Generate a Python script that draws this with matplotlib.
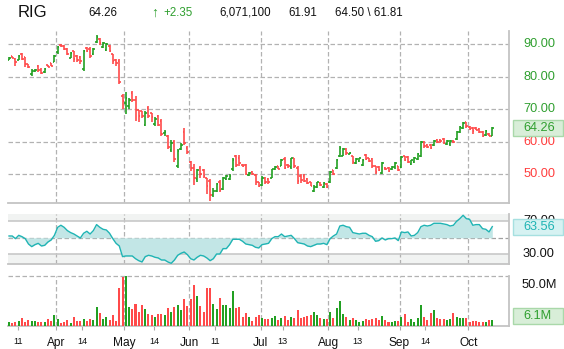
import numpy as np
import matplotlib
matplotlib.use("Agg")
import matplotlib.pyplot as plt
from matplotlib.patches import Rectangle
from matplotlib.transforms import offset_copy

plt.rcParams['font.family'] = ['Liberation Sans', 'DejaVu Sans']

# daily bars, oldest first
open_ = [85.3, 86.3, 85.5, 85.3, 87.1, 86.0, 84.0, 80.8, 81.8, 83.4,
         82.2, 81.4, 83.5, 84.2, 84.7, 87.5, 89.9, 89.5, 88.5, 85.9,
         87.8, 86.5, 86.0, 82.5, 89.0, 88.5, 87.0, 90.8, 91.6, 89.3,
         88.2, 89.5, 87.0, 85.3, 85.0, 74.0, 72.0, 71.0, 75.0, 73.0,
         69.8, 69.4, 65.2, 70.5, 69.0, 65.5, 68.0, 66.5, 62.6, 61.8,
         57.5, 60.0, 52.5, 57.8, 63.0, 58.0, 53.8, 52.0, 48.5, 52.0,
         51.3, 48.8, 48.0, 43.5, 45.0, 47.8, 45.5, 48.5, 48.6, 51.5,
         55.5, 55.0, 53.0, 53.0, 49.9, 50.8, 49.8, 47.5, 46.6, 48.8,
         48.7, 49.0, 51.5, 52.5, 52.7, 54.8, 53.0, 52.2, 55.0, 52.0,
         49.5, 49.4, 48.6, 47.5, 45.0, 46.2, 47.4, 46.2, 47.0, 47.5,
         51.2, 52.0, 55.6, 55.8, 57.8, 56.3, 55.5, 53.4, 54.2, 53.0,
         55.9, 55.0, 54.8, 52.5, 52.4, 50.5, 52.0, 52.0, 51.5, 52.2,
         52.5, 52.4, 55.5, 55.2, 53.1, 53.8, 54.8, 55.6, 60.0, 59.0,
         59.0, 59.0, 60.6, 60.7, 60.9, 59.3, 59.2, 60.4, 61.0, 63.0,
         64.3, 66.0, 64.6, 64.3, 64.3, 64.0, 63.0, 62.0, 62.5, 61.91]
high = [86.1, 86.4, 85.7, 86.7, 87.3, 86.1, 84.1, 82.3, 82.3, 83.6,
        82.8, 82.6, 83.6, 84.3, 86.7, 89.5, 90.0, 89.8, 88.8, 87.5,
        88.0, 86.7, 86.3, 88.4, 89.2, 89.2, 88.8, 92.9, 91.8, 90.7,
        90.5, 89.8, 87.1, 85.5, 85.5, 74.6, 75.3, 73.6, 75.6, 74.0,
        69.9, 69.5, 69.5, 70.9, 69.0, 67.6, 68.3, 66.9, 63.8, 62.1,
        60.5, 60.7, 57.7, 59.6, 64.2, 58.6, 54.1, 53.3, 51.8, 52.5,
        51.6, 49.0, 48.6, 45.9, 47.3, 48.2, 49.2, 49.8, 50.0, 55.1,
        55.9, 55.9, 53.3, 53.1, 50.8, 51.0, 50.0, 47.7, 49.4, 49.2,
        49.0, 51.8, 52.5, 52.7, 54.7, 55.3, 53.3, 55.1, 55.1, 52.5,
        50.0, 50.0, 49.0, 47.7, 46.7, 47.7, 47.7, 47.7, 47.3, 51.0,
        51.4, 54.7, 58.6, 58.2, 58.0, 56.8, 55.7, 55.1, 55.1, 54.7,
        56.2, 55.1, 55.1, 52.7, 52.7, 53.9, 52.3, 52.3, 52.7, 53.7,
        52.7, 55.5, 55.7, 55.5, 54.5, 55.3, 56.6, 60.3, 60.3, 59.2,
        59.2, 60.5, 60.9, 60.9, 61.1, 60.7, 60.7, 60.5, 63.3, 65.0,
        66.2, 66.2, 64.8, 64.6, 64.6, 64.2, 63.3, 63.5, 62.7, 64.50]
low = [85.1, 85.7, 83.4, 85.1, 85.1, 83.0, 82.6, 80.2, 81.6, 81.6,
       81.0, 81.3, 83.0, 83.2, 84.5, 87.1, 89.2, 88.2, 86.7, 85.7,
       84.7, 84.7, 84.1, 81.8, 87.7, 85.7, 86.7, 90.4, 89.9, 89.0,
       87.8, 87.7, 84.1, 83.4, 77.7, 70.0, 68.5, 70.0, 72.3, 66.4,
       66.2, 67.2, 64.9, 67.2, 66.2, 64.9, 64.8, 61.8, 61.8, 57.7,
       57.0, 53.9, 52.1, 57.4, 59.0, 56.4, 51.0, 46.7, 47.7, 49.0,
       49.0, 44.1, 41.8, 43.0, 44.5, 44.7, 45.3, 48.4, 48.2, 51.0,
       52.3, 52.5, 52.3, 49.8, 49.5, 49.8, 46.7, 46.1, 46.3, 47.1,
       47.1, 48.8, 51.2, 51.6, 52.5, 51.6, 52.1, 51.8, 52.1, 47.1,
       47.3, 47.5, 46.9, 46.3, 44.5, 45.9, 46.3, 45.9, 45.9, 47.3,
       49.8, 51.6, 55.3, 55.5, 56.0, 56.2, 53.3, 53.1, 53.9, 52.7,
       54.3, 53.7, 52.1, 50.2, 51.0, 50.0, 51.4, 50.6, 51.2, 51.8,
       51.0, 52.1, 54.1, 53.5, 52.9, 53.5, 54.5, 55.3, 58.2, 58.0,
       57.8, 58.8, 59.6, 59.6, 59.2, 59.0, 58.8, 59.8, 60.7, 62.7,
       63.9, 64.4, 63.5, 62.3, 63.5, 62.7, 61.5, 61.7, 61.8, 61.81]
close = [85.7, 85.9, 84.6, 86.5, 85.6, 84.0, 83.0, 81.8, 82.2, 82.0,
         81.3, 82.3, 83.1, 83.4, 86.3, 89.2, 89.5, 88.5, 87.0, 87.2,
         85.4, 85.3, 84.8, 88.0, 88.0, 86.5, 88.5, 92.2, 90.3, 90.4,
         90.0, 88.0, 84.8, 84.3, 78.5, 72.5, 73.5, 72.8, 72.8, 69.8,
         67.8, 68.0, 69.0, 67.8, 67.5, 67.0, 65.2, 62.5, 63.0, 58.5,
         59.8, 54.8, 57.3, 59.0, 59.5, 56.8, 52.0, 49.0, 51.2, 50.0,
         49.5, 46.5, 43.5, 45.0, 47.0, 45.3, 48.8, 49.5, 49.6, 54.5,
         53.0, 53.5, 52.5, 50.2, 50.4, 50.2, 47.5, 46.5, 49.0, 47.8,
         47.6, 51.5, 52.2, 51.8, 54.5, 52.0, 52.5, 55.0, 52.6, 48.0,
         48.2, 48.0, 47.2, 46.5, 46.2, 47.5, 46.6, 47.4, 46.2, 50.8,
         50.2, 54.3, 58.2, 57.8, 56.5, 56.7, 53.8, 54.8, 54.9, 54.5,
         54.8, 54.2, 52.5, 50.8, 51.3, 53.5, 51.8, 51.0, 52.4, 53.4,
         51.3, 55.2, 54.4, 53.8, 54.3, 55.0, 56.3, 60.0, 58.6, 58.3,
         58.1, 60.2, 60.0, 60.2, 59.5, 60.3, 60.2, 60.0, 63.0, 64.7,
         65.9, 64.8, 63.9, 63.3, 63.8, 63.0, 61.9, 63.2, 61.91, 64.26]
volume = [4, 3, 4, 5, 8, 4, 6, 5, 5, 4,
          4, 4, 7, 5, 11, 7, 3, 4, 6, 3,
          9, 5, 5, 7, 5, 7, 6, 19, 13, 7,
          9, 6, 11, 5, 38, 49, 50, 19, 17, 22,
          14, 21, 17, 12, 11, 9, 12, 12, 11, 18,
          14, 19, 21, 16, 27, 20, 27, 41, 30, 20,
          14, 38, 38, 22, 17, 28, 21, 21, 18, 35,
          18, 19, 9, 13, 9, 5, 9, 11, 8, 7,
          7, 8, 10, 6, 8, 10, 6, 9, 8, 16,
          8, 9, 10, 11, 14, 11, 8, 7, 7, 14,
          8, 18, 25, 12, 9, 6, 8, 6, 4, 5,
          7, 6, 7, 8, 6, 10, 6, 4, 4, 5,
          5, 9, 12, 4, 7, 4, 8, 21, 9, 6,
          13, 16, 8, 7, 7, 6, 7, 13, 9, 8,
          8, 8, 4, 5, 5, 4, 4, 4, 6, 6.0711]
rsi = [52.2, 52.2, 49.0, 53.0, 51.4, 49.0, 42.5, 39.3, 41.7, 43.3,
       40.1, 40.9, 44.9, 47.4, 53.0, 62.7, 65.2, 62.7, 58.7, 56.3,
       54.6, 52.2, 49.8, 55.5, 57.9, 54.6, 58.7, 66.0, 62.7, 60.3,
       59.5, 55.5, 49.0, 43.3, 40.1, 27.2, 28.0, 28.0, 28.0, 24.7,
       22.3, 20.7, 27.2, 28.8, 28.0, 26.4, 25.6, 23.1, 23.1, 20.7,
       19.1, 23.1, 28.8, 31.2, 32.8, 29.6, 24.7, 23.1, 26.4, 28.8,
       28.0, 25.6, 22.3, 24.7, 30.4, 30.4, 36.9, 36.9, 41.7, 48.2,
       48.2, 48.2, 45.8, 42.5, 41.7, 40.9, 38.5, 37.7, 41.7, 42.5,
       43.3, 49.0, 51.4, 51.4, 54.6, 51.4, 52.2, 53.0, 49.0, 44.1,
       43.3, 42.5, 40.1, 39.3, 40.9, 42.5, 42.5, 43.3, 41.7, 49.0,
       52.2, 54.6, 64.3, 65.2, 63.5, 62.7, 56.3, 55.5, 54.6, 55.5,
       55.5, 53.0, 51.4, 45.8, 46.6, 49.8, 47.4, 49.0, 49.0, 49.8,
       46.6, 57.1, 56.3, 57.1, 52.2, 53.0, 56.3, 63.5, 65.2, 64.3,
       65.2, 67.6, 67.6, 67.6, 66.8, 66.0, 64.3, 65.2, 70.0, 73.2,
       77.3, 73.2, 72.4, 65.2, 66.0, 66.0, 61.1, 60.3, 57.1, 63.56]

symbol = "RIG"
day_volume = 6071100

# month boundaries and date labels, in bar positions
month_pos = [14.6, 35.5, 55.5, 77.6, 98.5, 120.4, 141.6]
tick_pos = [2.9, 14.6, 22.6, 35.5, 44.7, 55.5, 63.6, 77.6, 84.4, 98.5, 107.5, 120.4, 128.4, 141.6]
tick_labels = ['11', 'Apr', '14', 'May', '14', 'Jun', '11', 'Jul', '13', 'Aug', '13', 'Sep', '14', 'Oct']
price_ticks = [50, 60, 70, 80, 90]

GREEN = '#22a022'
RED = '#ff4a4a'
GRID = '#b2b2b2'
EDGE = '#c4c4c4'
TEAL = '#20b4b4'

W, H = 564, 349
fig = plt.figure(figsize=(W / 100, H / 100), dpi=100)


def add_ax(x0, y0, x1, y1):
    return fig.add_axes([x0 / W, 1 - y1 / H, (x1 - x0) / W, (y1 - y0) / H])


ax_p = add_ax(8, 31, 509, 203.3)
ax_r = add_ax(8, 213.7, 509, 264.3)
ax_v = add_ax(8, 276, 509, 326)

o = np.array(open_)
h = np.array(high)
l = np.array(low)
c = np.array(close)
x = np.arange(len(c))
cols = np.where(c >= o, GREEN, RED)
last = c[-1]
change = c[-1] - c[-2]

dash = (0, (3.6, 2.0))
for ax in (ax_p, ax_r, ax_v):
    ax.set_xlim(-0.31, 154.15)
    for s in ('top', 'left'):
        ax.spines[s].set_visible(False)
    for s in ('right', 'bottom'):
        ax.spines[s].set_color(EDGE)
        ax.spines[s].set_linewidth(1.3)
    ax.tick_params(left=False, right=False, labelleft=False, labelright=False)
    for m in month_pos:
        ax.axvline(m, color=GRID, lw=0.9, ls=dash, zorder=1)

# price panel: OHLC bars
ax_p.set_ylim(41.1, 94.1)
ax_p.tick_params(bottom=False, labelbottom=False)
for p in price_ticks:
    ax_p.axhline(p, color=GRID, lw=0.9, ls=dash, zorder=1)
ax_p.vlines(x, l, h, colors=cols, lw=1.2, zorder=3)
ax_p.hlines(o, x - 0.5, x, colors=cols, lw=1.2, zorder=3)
ax_p.hlines(c, x, x + 0.5, colors=cols, lw=1.2, zorder=3)
ytr = ax_p.get_yaxis_transform()
for p in price_ticks:
    ax_p.text(1.028, p, f'{p:.2f}', transform=ytr, ha='left', va='center',
              fontsize=9.2, color='#2f9f2f' if p > last else '#ff3c3c')

# RSI panel
ax_r.set_ylim(17.9, 79.2)
ax_r.tick_params(bottom=False, labelbottom=False)
ax_r.axhspan(70, 79.2, color='#f1f3f2', lw=0, zorder=0)
ax_r.axhspan(17.9, 30, color='#f1f3f2', lw=0, zorder=0)
ax_r.axhline(70, color='#c8c8c8', lw=1.2, zorder=1)
ax_r.axhline(30, color='#c8c8c8', lw=1.2, zorder=1)
ax_r.axhline(50, color='#a0a0a0', lw=0.9, ls=dash, zorder=1)
r = np.array(rsi)
ax_r.fill_between(x, r, 50, color='#c2e6e6', lw=0, zorder=2)
ax_r.plot(x, r, color=TEAL, lw=1.0, zorder=3)
rtr = ax_r.get_yaxis_transform()
for v in (70, 30):
    ax_r.text(1.028, v, f'{v:.2f}', transform=rtr, ha='left', va='center',
              fontsize=9.2, color='#111111')

# volume panel
vol = np.array(volume)
ax_v.set_ylim(0, 50)
ax_v.axhline(50, color=GRID, lw=0.9, ls=dash, zorder=1, clip_on=False)
ax_v.bar(x, vol, width=0.62, color=cols, zorder=3, clip_on=False)
ax_v.set_xticks(tick_pos)
ax_v.set_xticklabels(tick_labels)
ax_v.tick_params(axis='x', length=3, color='#a8a8a8', pad=5, labelcolor='#111111')
for lab in ax_v.get_xticklabels():
    lab.set_fontsize(6.6 if lab.get_text().isdigit() else 8.6)
ax_v.text(1.024, 50, '50.0M', ha='left', va='center', fontsize=9.2, color='#111111',
          transform=offset_copy(ax_v.get_yaxis_transform(), fig=fig, y=-9, units='dots'))


def value_box(ax, value, text, fc, ec, tc, floor=None):
    yc = ax.transData.transform((0, value))[1]
    if floor is not None:
        yc = max(yc, floor)
    fig.add_artist(Rectangle((513 / W, (yc - 8) / H), 50 / W, 16 / H,
                             transform=fig.transFigure, fc=fc, ec=ec, lw=1.0))
    fig.text(523 / W, yc / H, text, ha='left', va='center', fontsize=9.2, color=tc)


value_box(ax_p, last, f'{last:.2f}', '#d8eed8', '#a9d8a9', '#2f9f2f')
value_box(ax_r, r[-1], f'{r[-1]:.2f}', '#d6f2f2', '#a6e0e0', TEAL)
value_box(ax_v, vol[-1], f'{vol[-1]:.1f}M', '#d8eed8', '#a9d8a9', '#2f9f2f', floor=H - 316)

# quote header
hy = 1 - 12.5 / H
hs = 8.3
fig.text(18 / W, hy, symbol, fontsize=12, color='#111111', va='center')
fig.text(88 / W, hy, f'{last:.2f}', fontsize=hs, color='#111111', va='center')
fig.text(151 / W, hy, '↑', fontsize=10, color='#2f9f2f', va='center', fontweight='bold')
fig.text(163 / W, hy, f'{change:+.2f}', fontsize=hs, color='#2f9f2f', va='center')
fig.text(219 / W, hy, f'{day_volume:,}', fontsize=hs, color='#111111', va='center')
fig.text(288 / W, hy, f'{o[-1]:.2f}', fontsize=hs, color='#111111', va='center')
fig.text(335 / W, hy, f'{h[-1]:.2f} \\ {l[-1]:.2f}', fontsize=hs, color='#111111', va='center')

fig.savefig('out.png', dpi=100)
